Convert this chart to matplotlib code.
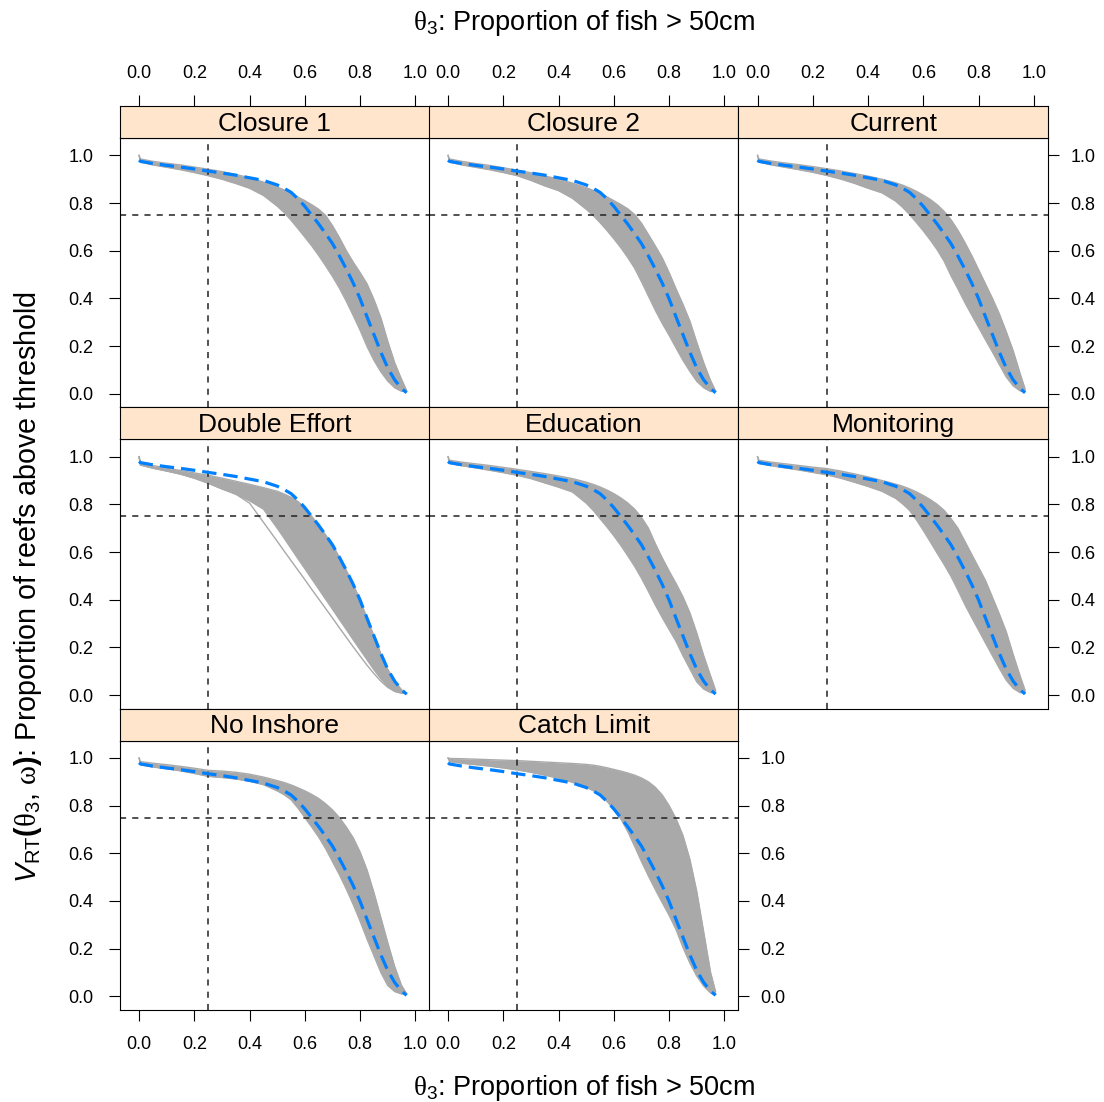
import numpy as np
import matplotlib

matplotlib.use("Agg")
import matplotlib.pyplot as plt

plt.rcParams.update({
    "font.family": ["Liberation Sans", "DejaVu Sans"],
    "mathtext.fontset": "custom",
    "mathtext.rm": "Liberation Serif",
    "mathtext.sf": "Liberation Sans",
    "mathtext.it": "Liberation Sans:italic",
    "mathtext.bf": "Liberation Sans:bold",
})

# ---- data
THETA = [0, 0.005, 0.05, 0.1, 0.15, 0.2, 0.25, 0.3, 0.35, 0.4,
         0.45, 0.5, 0.525, 0.55, 0.575, 0.6, 0.625, 0.65, 0.675, 0.7,
         0.725, 0.75, 0.775, 0.8, 0.825, 0.85, 0.875, 0.9, 0.925, 0.95,
         0.968]
# baseline (blue dashed, same curve in every panel)
BASELINE = [0.98, 0.975, 0.966, 0.958, 0.951, 0.943, 0.934, 0.926, 0.917, 0.906,
            0.895, 0.876, 0.862, 0.845, 0.818, 0.786, 0.749, 0.712, 0.672, 0.63,
            0.578, 0.523, 0.464, 0.398, 0.322, 0.248, 0.174, 0.108, 0.058, 0.022,
            0.004]

PANELS = ["Closure 1", "Closure 2", "Current", "Double Effort", "Education",
          "Monitoring", "No Inshore", "Catch Limit"]

# upper / lower envelope of the simulated (grey) curves, per scenario
CLOSURE1_UP = [1.0, 0.985, 0.975, 0.967, 0.96, 0.951, 0.942, 0.932, 0.92, 0.906,
               0.888, 0.867, 0.855, 0.84, 0.825, 0.81, 0.793, 0.774, 0.748, 0.705,
               0.655, 0.60, 0.552, 0.508, 0.461, 0.395, 0.318, 0.22, 0.13, 0.06,
               0.014]
CLOSURE1_LO = [1.0, 0.972, 0.96, 0.95, 0.94, 0.928, 0.915, 0.90, 0.882, 0.862,
               0.832, 0.787, 0.76, 0.728, 0.693, 0.657, 0.62, 0.58, 0.537, 0.492,
               0.443, 0.388, 0.328, 0.266, 0.198, 0.14, 0.092, 0.053, 0.025, 0.01,
               0.012]
CLOSURE2_UP = [1.0, 0.985, 0.975, 0.966, 0.958, 0.948, 0.938, 0.927, 0.914, 0.90,
               0.884, 0.865, 0.853, 0.84, 0.826, 0.81, 0.794, 0.776, 0.752, 0.715,
               0.668, 0.62, 0.57, 0.508, 0.44, 0.375, 0.305, 0.215, 0.13, 0.055,
               0.012]
CLOSURE2_LO = [1.0, 0.972, 0.96, 0.95, 0.94, 0.928, 0.915, 0.895, 0.872, 0.852,
               0.82, 0.774, 0.748, 0.718, 0.685, 0.65, 0.613, 0.572, 0.527, 0.47,
               0.41, 0.35, 0.295, 0.245, 0.192, 0.14, 0.094, 0.052, 0.025, 0.009,
               0.012]
CURRENT_UP = [1.0, 0.985, 0.976, 0.968, 0.961, 0.953, 0.944, 0.935, 0.924, 0.913,
              0.90, 0.885, 0.875, 0.863, 0.849, 0.833, 0.815, 0.793, 0.765, 0.73,
              0.686, 0.635, 0.58, 0.52, 0.46, 0.40, 0.335, 0.26, 0.18, 0.085,
              0.02]
CURRENT_LO = [1.0, 0.972, 0.96, 0.95, 0.94, 0.929, 0.916, 0.901, 0.883, 0.862,
              0.843, 0.808, 0.782, 0.752, 0.718, 0.683, 0.645, 0.604, 0.556, 0.495,
              0.44, 0.383, 0.33, 0.278, 0.226, 0.175, 0.122, 0.07, 0.033, 0.012,
              0.012]
DOUBLE_UP = [1.0, 0.975, 0.963, 0.952, 0.942, 0.932, 0.922, 0.91, 0.897, 0.884,
             0.87, 0.855, 0.843, 0.83, 0.812, 0.786, 0.749, 0.712, 0.672, 0.63,
             0.578, 0.523, 0.464, 0.398, 0.322, 0.248, 0.174, 0.108, 0.058, 0.022,
             0.006]
DOUBLE_LO = [1.0, 0.965, 0.952, 0.94, 0.927, 0.91, 0.889, 0.865, 0.843, 0.815,
             0.78, 0.70, 0.658, 0.615, 0.572, 0.53, 0.487, 0.445, 0.402, 0.36,
             0.317, 0.275, 0.232, 0.19, 0.148, 0.106, 0.068, 0.036, 0.016, 0.008,
             0.006]
DOUBLE_STRAY = [1.0, 0.965, 0.952, 0.94, 0.927, 0.91, 0.889, 0.865, 0.843, 0.805,
                0.725, 0.645, 0.604, 0.564, 0.524, 0.484, 0.443, 0.403, 0.363, 0.323,
                0.282, 0.242, 0.202, 0.163, 0.125, 0.09, 0.058, 0.032, 0.015, 0.008,
                0.006]
EDUCATION_UP = [1.0, 0.985, 0.977, 0.97, 0.963, 0.955, 0.947, 0.938, 0.929, 0.919,
                0.908, 0.893, 0.884, 0.873, 0.86, 0.845, 0.827, 0.806, 0.78, 0.745,
                0.70, 0.635, 0.575, 0.52, 0.468, 0.412, 0.345, 0.26, 0.165, 0.08,
                0.02]
EDUCATION_LO = [1.0, 0.972, 0.962, 0.953, 0.943, 0.933, 0.922, 0.908, 0.89, 0.872,
                0.852, 0.805, 0.775, 0.74, 0.705, 0.668, 0.628, 0.585, 0.54, 0.49,
                0.435, 0.378, 0.325, 0.275, 0.225, 0.165, 0.11, 0.055, 0.025, 0.01,
                0.012]
MONITOR_UP = [1.0, 0.985, 0.977, 0.97, 0.963, 0.956, 0.95, 0.94, 0.928, 0.915,
              0.90, 0.885, 0.876, 0.865, 0.852, 0.837, 0.82, 0.80, 0.775, 0.74,
              0.70, 0.645, 0.59, 0.535, 0.48, 0.41, 0.34, 0.265, 0.17, 0.08,
              0.02]
MONITOR_LO = [1.0, 0.972, 0.962, 0.953, 0.944, 0.934, 0.924, 0.91, 0.893, 0.875,
              0.855, 0.825, 0.802, 0.775, 0.735, 0.69, 0.643, 0.595, 0.548, 0.498,
              0.44, 0.38, 0.325, 0.272, 0.218, 0.165, 0.112, 0.062, 0.028, 0.01,
              0.012]
NOINSHORE_UP = [1.0, 0.985, 0.978, 0.972, 0.965, 0.957, 0.948, 0.945, 0.94, 0.932,
                0.92, 0.905, 0.897, 0.887, 0.875, 0.862, 0.847, 0.83, 0.808, 0.782,
                0.75, 0.71, 0.665, 0.605, 0.53, 0.435, 0.33, 0.225, 0.125, 0.045,
                0.012]
NOINSHORE_LO = [1.0, 0.972, 0.962, 0.955, 0.946, 0.935, 0.923, 0.918, 0.912, 0.902,
                0.888, 0.862, 0.846, 0.825, 0.79, 0.75, 0.71, 0.668, 0.62, 0.565,
                0.51, 0.45, 0.385, 0.315, 0.24, 0.17, 0.10, 0.045, 0.02, 0.01,
                0.012]
CATCH_UP = [1.0, 0.998, 0.997, 0.995, 0.993, 0.991, 0.989, 0.986, 0.983, 0.98,
            0.977, 0.973, 0.97, 0.965, 0.959, 0.952, 0.945, 0.937, 0.928, 0.916,
            0.90, 0.877, 0.845, 0.80, 0.745, 0.675, 0.575, 0.44, 0.27, 0.10,
            0.02]
CATCH_LO = [1.0, 0.985, 0.978, 0.972, 0.966, 0.958, 0.95, 0.94, 0.928, 0.915,
            0.898, 0.877, 0.863, 0.845, 0.818, 0.785, 0.745, 0.692, 0.63, 0.565,
            0.505, 0.448, 0.393, 0.34, 0.28, 0.205, 0.14, 0.085, 0.043, 0.014,
            0.01]

UPPER = [CLOSURE1_UP, CLOSURE2_UP, CURRENT_UP, DOUBLE_UP, EDUCATION_UP,
         MONITOR_UP, NOINSHORE_UP, CATCH_UP]
LOWER = [CLOSURE1_LO, CLOSURE2_LO, CURRENT_LO, DOUBLE_LO, EDUCATION_LO,
         MONITOR_LO, NOINSHORE_LO, CATCH_LO]
STRAY = {"Double Effort": DOUBLE_STRAY}

REF_X, REF_Y = 0.25, 0.75
TICKS = [0.0, 0.2, 0.4, 0.6, 0.8, 1.0]

# ---- layout (pixels)
W, H = 1104, 1102
COL_L = [120, 429, 738.5]
COL_W = 309.5
TOP0, STRIP_H, PLOT_H = 106, 32, 269.3
XLIM = (-0.069, 1.051)
YLIM = (-0.057, 1.073)
GREY = "#A9A9A9"
BLUE = "#0080FF"
STRIP_BG = "#FFE5CC"
TICK_KW = dict(direction="out", length=8, width=0.8, labelsize=13)


def rect(x0, y0, w, h):
    return [x0 / W, 1 - (y0 + h) / H, w / W, h / H]


fig = plt.figure(figsize=(W / 100, H / 100), dpi=100)
x = np.asarray(THETA)

for i, name in enumerate(PANELS):
    r, c = divmod(i, 3)
    top = TOP0 + r * (STRIP_H + PLOT_H)
    ax = fig.add_axes(rect(COL_L[c], top + STRIP_H, COL_W, PLOT_H))
    st = fig.add_axes(rect(COL_L[c], top, COL_W, STRIP_H))

    up, lo = np.asarray(UPPER[i]), np.asarray(LOWER[i])
    ax.fill_between(x, lo, up, color=GREY, lw=0)
    ax.plot(x, up, color=GREY, lw=1)
    ax.plot(x, lo, color=GREY, lw=1)
    if name in STRAY:
        ax.plot(x, STRAY[name], color=GREY, lw=1)
    ax.axvline(REF_X, color="#222222", lw=1.1, ls=(0, (4, 4)))
    ax.axhline(REF_Y, color="#222222", lw=1.1, ls=(0, (4, 4)))
    ax.plot(x, BASELINE, color=BLUE, lw=2.3, ls=(0, (4.5, 2.2)))

    ax.set_xlim(XLIM)
    ax.set_ylim(YLIM)
    ax.set_xticks(TICKS)
    ax.set_yticks(TICKS)
    ax.xaxis.set_major_formatter("{x:.1f}")
    ax.yaxis.set_major_formatter("{x:.1f}")
    left = c == 0
    right = c == 2 or (r == 2 and c == 1)
    bottom = r == 2
    ax.tick_params(axis="y", left=left, labelleft=left, right=right,
                   labelright=right, pad=11 if left else 8, **TICK_KW)
    ax.tick_params(axis="x", bottom=bottom, labelbottom=bottom, top=False,
                   labeltop=False, pad=11, **TICK_KW)
    for sp in ax.spines.values():
        sp.set_linewidth(0.8)

    st.set_facecolor(STRIP_BG)
    st.set_xlim(XLIM)
    st.set_ylim(0, 1)
    st.set_yticks([])
    st.set_xticks(TICKS)
    st.xaxis.set_major_formatter("{x:.1f}")
    st.tick_params(axis="x", bottom=False, labelbottom=False, top=r == 0,
                   labeltop=r == 0, pad=9, **TICK_KW)
    for sp in st.spines.values():
        sp.set_linewidth(0.8)
    st.text(0.5, 0.45, name, transform=st.transAxes, ha="center",
            va="center", fontsize=19)

XTITLE = r"$\mathrm{\theta}_{\mathsf{3}}$: Proportion of fish > 50cm"
YTITLE = (r"$\mathit{V}_{\mathsf{RT}}\mathbf{(}\mathrm{\theta}_{\mathsf{3}}"
          r"\mathsf{,}\ \mathrm{\omega}\mathbf{)}$: Proportion of reefs above threshold")
fig.text(584 / W, 1 - 23 / H, XTITLE, ha="center", va="center", fontsize=19.5)
fig.text(584 / W, 1 - 1088 / H, XTITLE, ha="center", va="center", fontsize=19.5)
fig.text(28 / W, 1 - 587 / H, YTITLE, ha="center", va="center",
         rotation=90, fontsize=20.7)

fig.savefig("out.png", dpi=100)
